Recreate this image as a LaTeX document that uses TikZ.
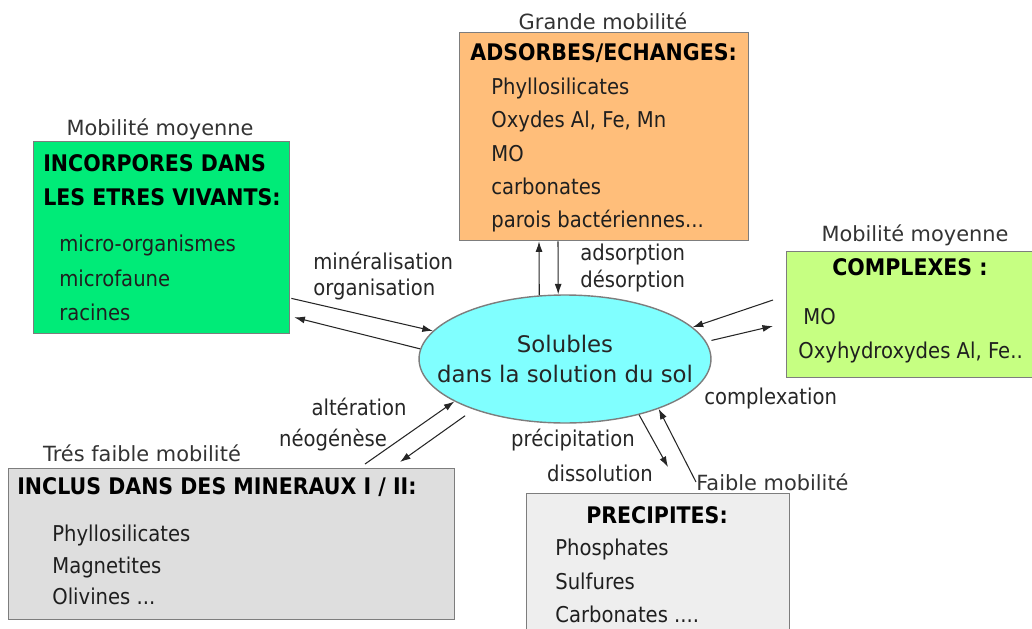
\documentclass[tikz,border=0pt]{standalone}
\usepackage{fontspec}
\setmainfont{DejaVu Sans}[FakeStretch=0.9]
\newfontfamily\mobfont{DejaVu Sans}
\usetikzlibrary{shapes.geometric,arrows.meta}

\definecolor{vertvif}{RGB}{0,235,120}
\definecolor{vertclair}{RGB}{198,255,130}
\definecolor{orangeclair}{RGB}{255,190,122}
\definecolor{cyanclair}{RGB}{128,255,255}
\definecolor{grismoyen}{RGB}{222,222,222}
\definecolor{grisclair}{RGB}{238,238,238}
\definecolor{bordgris}{RGB}{125,125,125}

\begin{document}
\begin{tikzpicture}[x=0.02cm,y=-0.02cm,
    boite/.style={draw=bordgris, line width=0.8pt, anchor=north west, inner sep=0pt},
    entete/.style={inner sep=0pt, text=black, font=\bfseries\fontsize{13}{19.3}\selectfont},
    liste/.style={anchor=west, inner sep=0pt, align=left, text=black!88, font=\fontsize{12.4}{19}\selectfont},
    mobil/.style={inner sep=0pt, text=black!80, font=\mobfont\fontsize{11.9}{14}\selectfont},
    procede/.style={inner sep=0pt, align=left, text=black!85, font=\fontsize{12.4}{15.3}\selectfont},
    fleche/.style={-{Latex[length=6pt,width=4pt]}, line width=0.6pt, draw=black!85}]

    \useasboundingbox (0,0) rectangle (1032,629);
    \clip (0,0) rectangle (1032,629);

    \node[boite, fill=vertvif, minimum width=5.12cm, minimum height=3.84cm] (vivant) at (33,141) {};
    \node[boite, fill=orangeclair, minimum width=5.78cm, minimum height=4.16cm] (adsorbe) at (459,32) {};
    \node[boite, fill=vertclair, minimum width=5.08cm, minimum height=2.52cm] (complexe) at (786,251) {};
    \node[boite, fill=grismoyen, minimum width=8.92cm, minimum height=3.02cm] (mineral) at (8,468) {};
    \node[boite, fill=grisclair, minimum width=5.26cm, minimum height=2.94cm] (precipite) at (526,493) {};
    \node[ellipse, draw=bordgris, line width=0.8pt, fill=cyanclair, inner sep=0pt,
          minimum width=5.84cm, minimum height=2.56cm] (sol) at (565,359) {};
    \node[align=center, inner sep=0pt, text=black!85,
          font=\mobfont\fontsize{13}{17}\selectfont] (soltexte) at (sol.center)
          {Solubles\\dans la solution du sol};

    \node[mobil] (mobvivant) at (160,129) {Mobilité moyenne};
    \node[mobil] (mobadsorbe) at (603,21) {Grande mobilité};
    \node[mobil] (mobcomplexe) at (915,235) {Mobilité moyenne};
    \node[mobil] (mobmineral) at (142,453) {Trés faible mobilité};
    \node[mobil, anchor=west] (faible) at (696,482) {Faible mobilité};

    \node[entete, anchor=west, align=left] (tvivant) at (43,180) {INCORPORES DANS\\LES ETRES VIVANTS:};
    \node[liste, font=\fontsize{12.4}{19.6}\selectfont] (lvivant) at (59,278) {micro-organismes\\microfaune\\racines};

    \node[entete, anchor=west] (tadsorbe) at (470,53) {ADSORBES/ECHANGES:};
    \node[liste] (ladsorbe) at (491,155) {Phyllosilicates\\Oxydes Al, Fe, Mn\\MO\\carbonates\\parois bactériennes...};

    \node[entete] (tcomplexe) at (910,267) {COMPLEXES :};
    \node[liste] (lcomplexe1) at (803,317) {MO};
    \node[liste] (lcomplexe2) at (798,352) {Oxyhydroxydes Al, Fe..};

    \node[entete, anchor=west] (tmineral) at (17,487) {INCLUS DANS DES MINERAUX I / II:};
    \node[liste, font=\fontsize{12.4}{18.1}\selectfont] (lmineral) at (52,565) {Phyllosilicates\\Magnetites\\Olivines ...};

    \node[entete] (tprecipite) at (657,515) {PRECIPITES:};
    \node[liste] (lprecipite) at (555,581) {Phosphates\\Sulfures\\Carbonates ....};

    \node[procede, anchor=west] (pmineral) at (313,276) {minéralisation\\organisation};
    \node[procede, anchor=west] (padsorb) at (580,268) {adsorption\\désorption};
    \node[procede, anchor=west] (pcomplex) at (704,398) {complexation};
    \node[procede] (palter) at (359,407) {altération};
    \node[procede] (pneo) at (333,440) {néogénèse};
    \node[procede] (pprecip) at (573,440) {précipitation};
    \node[procede] (pdissol) at (600,473) {dissolution};

    \draw[fleche] ([shift={(1,-36)}]vivant.south east) -- (sol.168);
    \draw[fleche] (sol.176) -- ([shift={(4,-17)}]vivant.south east);

    \draw[fleche] (sol.112) -- ([shift={(80,0)}]adsorbe.south west);
    \draw[fleche] ([shift={(99,0)}]adsorbe.south west) -- (sol.96);

    \draw[fleche] ([shift={(-13,49)}]complexe.north west) -- (sol.14);
    \draw[fleche, shorten <=3pt] (sol.7) -- ([shift={(-13,75)}]complexe.north west);

    \draw[fleche] ([shift={(357,-4)}]mineral.north west) -- (sol.201);
    \draw[fleche, shorten <=6pt] (sol.209) -- ([shift={(392,-6)}]mineral.north west);

    \draw[fleche] (sol.323) -- ([shift={(142,-26)}]precipite.north west);
    \draw[fleche] (faible.west) -- (sol.332);
\end{tikzpicture}
\end{document}
